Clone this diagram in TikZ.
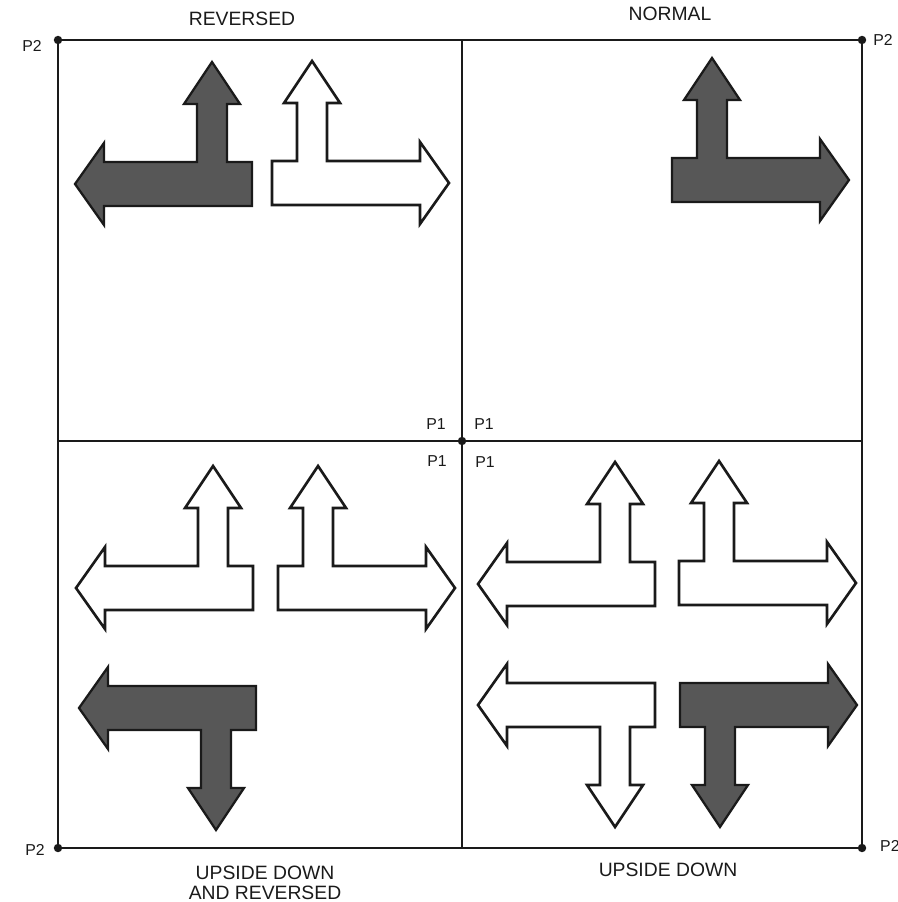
\documentclass[tikz,border=0pt]{standalone}
\usepackage{fontspec}
\setmainfont{Liberation Sans}
\usetikzlibrary{positioning}
\definecolor{ink}{HTML}{1A1A1A}
\definecolor{shade}{HTML}{575757}

% T-shaped arrow, drawn with the short end of the bar at the origin
\tikzset{
  pics/tarrow/.style={code={
    \path[pic actions] (0,22) -- (148,22) -- (148,41) -- (177,0) -- (148,-41)
      -- (148,-22) -- (55,-22) -- (55,-80) -- (68,-80) -- (40,-122)
      -- (12,-80) -- (25,-80) -- (25,-22) -- (0,-22) -- cycle;
  }},
}

\begin{document}
\begin{tikzpicture}[
  x=0.02cm, y=-0.02cm,
  frame/.style={draw=ink, line width=1.6pt},
  divider/.style={draw=ink, line width=1.2pt},
  dark/.style={draw=ink, fill=shade, line width=1.3pt},
  ghost/.style={draw=ink, fill=white, line width=1.5pt},
  title/.style={font=\fontsize{11}{11.3}\selectfont, text=ink, align=center},
  plabel/.style={font=\fontsize{9}{10}\selectfont, text=ink},
]

\useasboundingbox (0,0) rectangle (898,902);

% === Frame ===
\coordinate (tl) at (58,40);
\coordinate (tr) at (862,40);
\coordinate (bl) at (58,848);
\coordinate (br) at (862,848);
\coordinate (tm) at (462,40);
\coordinate (bm) at (462,848);
\coordinate (lm) at (58,441);
\coordinate (rm) at (862,441);
\coordinate (c) at (462,441);

\draw[frame] (tl) rectangle (br);
\draw[divider] (tm) -- (bm);
\draw[divider] (lm) -- (rm);
\foreach \p in {tl,tr,bl,br,c}
  \fill[ink] (\p) circle[radius=2.4pt];

% === Corner labels ===
\node[plabel] (p2tl) at (32,46) {P2};
\node[plabel] (p2tr) at (883,40) {P2};
\node[plabel] (p2bl) at (35,850) {P2};
\node[plabel, anchor=west] (p2br) at (874,846) {P2};
\node[plabel] (p1a) at (436,424) {P1};
\node[plabel] (p1b) at (484,424) {P1};
\node[plabel] (p1c) at (437,461) {P1};
\node[plabel] (p1d) at (485,462) {P1};

% === Top left: reversed ===
\pic[dark, xscale=-1] at (252,184) {tarrow};
\pic[ghost] at (272,183) {tarrow};
\node[title] (revlbl) at (242,19) {REVERSED};

% === Top right: normal ===
\pic[dark] at (672,180) {tarrow};
\node[title] (normlbl) at (670,14) {NORMAL};

% === Bottom left: upside down and reversed ===
\pic[ghost, xscale=-1] at (253,588) {tarrow};
\pic[ghost] at (278,588) {tarrow};
\pic[dark, xscale=-1, yscale=-1] at (256,708) {tarrow};
\node[title] (udrlbl) at (265,883) {UPSIDE DOWN\\AND REVERSED};

% === Bottom right: upside down ===
\pic[ghost, xscale=-1] at (655,584) {tarrow};
\pic[ghost] at (679,583) {tarrow};
\pic[ghost, xscale=-1, yscale=-1] at (655,705) {tarrow};
\pic[dark, yscale=-1] at (680,705) {tarrow};
\node[title] (udlbl) at (668,870) {UPSIDE DOWN};

\end{tikzpicture}
\end{document}
